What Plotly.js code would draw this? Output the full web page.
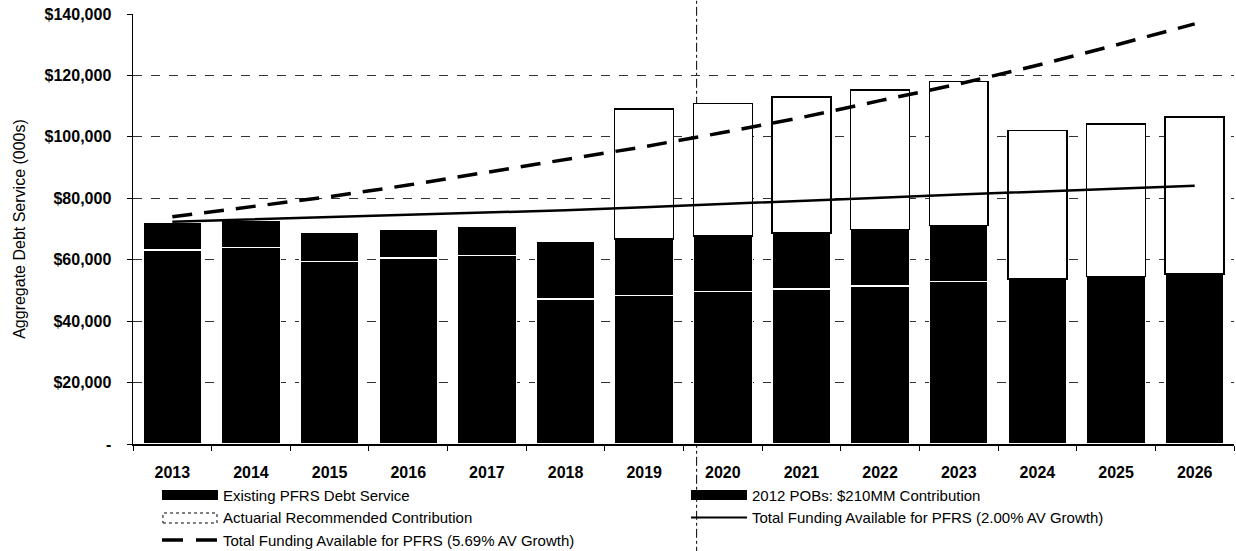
<!DOCTYPE html>
<html>
<head>
<meta charset="utf-8">
<script src="https://cdn.plot.ly/plotly-3.0.1.min.js"></script>
<style>html,body{margin:0;padding:0;background:#fff;}#chart{width:1236px;height:551px;}</style>
</head>
<body>
<div id="chart"></div>
<script>
// Categories
const years = ['2013','2014','2015','2016','2017','2018','2019','2020','2021','2022','2023','2024','2025','2026'];
// Series values ($000s)
const existingDebt = [63200, 63900, 59400, 60500, 61400, 47200, 48300, 49600, 50500, 51500, 52900, 53700, 54500, 55300];
const pobsContribution = [9000, 9000, 9600, 9500, 9500, 18700, 18400, 18200, 18200, 18400, 18200, null, null, null];
const actuarialContribution = [null, null, null, null, null, null, 42400, 43100, 44200, 45400, 46900, 48300, 49700, 51100];
const funding200 = [72400, 73100, 73800, 74500, 75200, 76100, 77100, 78200, 79200, 80200, 81200, 82100, 83100, 84100];
const funding569 = [74000, 77300, 80500, 84300, 88500, 92700, 96800, 101400, 106300, 111800, 117200, 123300, 129900, 136800];
// Tick labels
const yTickVals = [0, 20000, 40000, 60000, 80000, 100000, 120000, 140000];
const yTickText = ['-', '$20,000', '$40,000', '$60,000', '$80,000', '$100,000', '$120,000', '$140,000'];
const seriesNames = [
  'Existing PFRS Debt Service',
  '2012 POBs: $210MM Contribution',
  'Actuarial Recommended Contribution',
  'Total Funding Available for PFRS (2.00% AV Growth)',
  'Total Funding Available for PFRS (5.69% AV Growth)'
];

const FONT = 'Liberation Sans, Arial, sans-serif';

const traces = [
  {type:'bar', name:seriesNames[0], x:years, y:existingDebt, showlegend:false,
   marker:{color:'#000', line:{color:'#fff', width:1.5}}},
  {type:'bar', name:seriesNames[1], x:years, y:pobsContribution, showlegend:false,
   marker:{color:'#000', line:{color:'#fff', width:1.5}}},
  {type:'bar', name:seriesNames[2], x:years, y:actuarialContribution, showlegend:false,
   marker:{color:'#fff', line:{color:'#000', width:1.5}}},
  {type:'scatter', mode:'lines', name:seriesNames[3], x:years, y:funding200, showlegend:false,
   line:{color:'#000', width:2.5}},
  {type:'scatter', mode:'lines', name:seriesNames[4], x:years, y:funding569, showlegend:false,
   line:{color:'#000', width:3.5, dash:'20px,12px'}},
  // legend entries (no marks drawn)
  {type:'scatter', mode:'lines', name:seriesNames[0], x:[null], y:[null], line:{color:'#000', width:10}},
  {type:'scatter', mode:'lines', name:seriesNames[1], x:[null], y:[null], line:{color:'#000', width:10}},
  {type:'scatter', mode:'lines', name:seriesNames[2], x:[null], y:[null], line:{color:'rgba(0,0,0,0)', width:1}},
  {type:'scatter', mode:'lines', name:seriesNames[3], x:[null], y:[null], line:{color:'#000', width:2}},
  {type:'scatter', mode:'lines', name:seriesNames[4], x:[null], y:[null], line:{color:'#000', width:3.5, dash:'21px,13px'}}
];

const layout = {
  width:1236, height:551,
  margin:{l:133, r:2, t:14, b:107},
  paper_bgcolor:'#fff', plot_bgcolor:'rgba(0,0,0,0)',
  barmode:'stack', bargap:0.25,
  font:{family:FONT, size:16, color:'#000'},
  showlegend:true,
  legend:{orientation:'h', xref:'container', yref:'container', x:0.127, xanchor:'left', y:0.131, yanchor:'top',
          entrywidth:458, entrywidthmode:'pixels', itemwidth:56,
          font:{family:FONT, size:15, color:'#000'}, tracegroupgap:0,
          bgcolor:'rgba(0,0,0,0)', traceorder:'normal'},
  xaxis:{type:'category', showline:true, linecolor:'#000', linewidth:1.5,
         ticks:'outside', ticklen:5, tickcolor:'#000', tickson:'boundaries',
         tickfont:{family:FONT, size:16, weight:'bold'}, ticklabelstandoff:13,
         showgrid:false, zeroline:false},
  yaxis:{range:[0,140000], tickvals:yTickVals, ticktext:yTickText,
         showline:true, linecolor:'#000', linewidth:1.5,
         ticks:'outside', ticklen:5, tickcolor:'#000',
         tickfont:{family:FONT, size:16, weight:'bold'}, ticklabelstandoff:12,
         showgrid:true, gridcolor:'#333', gridwidth:1, griddash:'dash',
         zeroline:false,
         title:{text:'Aggregate Debt Service (000s)', font:{family:FONT, size:16}, standoff:15}},
  shapes:[
    {type:'line', xref:'x', yref:'paper', x0:6.667, x1:6.667, y0:-0.26, y1:1.04,
     layer:'below', line:{color:'#000', width:1, dash:'dashdot'}},
    // legend swatch for the actuarial series (dotted outlined box)
    {type:'rect', xref:'paper', yref:'paper', x0:0.0272, x1:0.0763, y0:-0.1837, y1:-0.1605,
     fillcolor:'#fff', line:{color:'#000', width:1, dash:'dot'}}
  ]
};

Plotly.newPlot('chart', traces, layout, {displayModeBar:false, staticPlot:true});
</script>
</body>
</html>
